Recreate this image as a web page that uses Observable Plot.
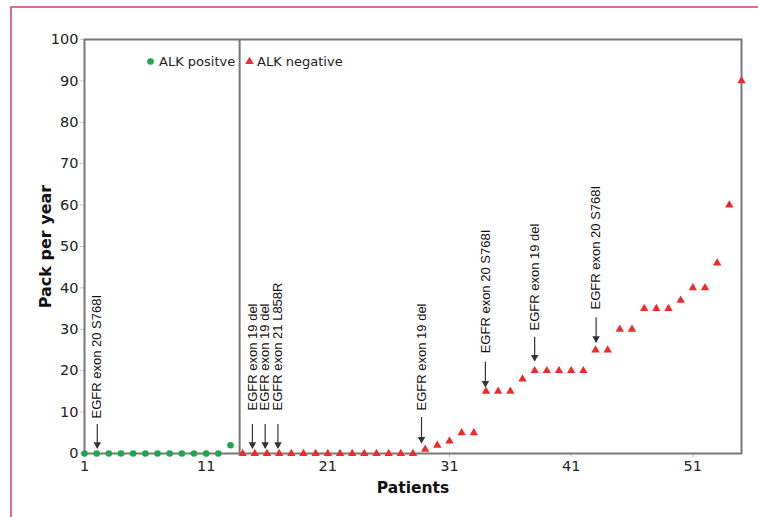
<!DOCTYPE html>
<html><head><meta charset="utf-8">
<script src="https://cdn.jsdelivr.net/npm/d3@7"></script>
<script src="https://cdn.jsdelivr.net/npm/@observablehq/plot@0.6"></script>
<style>
body{margin:0;background:#fff;}
#wrap{position:relative;width:758px;height:517px;overflow:hidden;}
#wrap svg{position:absolute;left:0;top:0;}
#border{position:absolute;left:10px;top:6px;width:800px;height:600px;border-left:2px solid #dd7088;border-top:2px solid #dd7088;}
</style></head><body><div id="wrap"><div id="border"></div></div>
<script>
// ---- data ----
const positivePatients = [1,2,3,4,5,6,7,8,9,10,11,12,13];
const positiveValues   = [0,0,0,0,0,0,0,0,0,0,0,0,2];
const negativePatients = [14,15,16,17,18,19,20,21,22,23,24,25,26,27,28,29,30,31,32,33,34,35,36,37,38,39,40,41,42,43,44,45,46,47,48,49,50,51,52,53,54,55];
const negativeValues   = [0,0,0,0,0,0,0,0,0,0,0,0,0,0,0,1,2,3,5,5,15,15,15,18,20,20,20,20,20,25,25,30,30,35,35,35,37,40,40,46,60,90];
const annotationLabels = ["EGFR exon 20 S768I","EGFR exon 19 del","EGFR exon 19 del","EGFR exon 21 L858R","EGFR exon 19 del","EGFR exon 20 S768I","EGFR exon 19 del","EGFR exon 20 S768I"];
const annotationX      = [2.05, 14.8, 15.85, 16.9, 28.7, 33.95, 38.0, 43.05];
const arrowTop         = [7.0, 7.0, 7.0, 7.0, 8.7, 22.05, 28.1, 32.8];
const arrowTip         = [1.2, 1.2, 1.2, 1.2, 2.5, 16.0, 22.3, 26.8];
const labelBottom      = [8.45, 10.4, 10.4, 10.4, 10.4, 24.2, 29.7, 34.8];
const groupDivider     = [13.75];
const xTicks = [1, 11, 21, 31, 41, 51];
const yTicks = [0, 10, 20, 30, 40, 50, 60, 70, 80, 90, 100];
const legendLabels = ["ALK positve", "ALK negative"];
const xTitle = "Patients";
const yTitle = "Pack per year";

// ---- tables built from arrays ----
const positive = positivePatients.map((p, i) => ({patient: p, value: positiveValues[i]}));
const negative = negativePatients.map((p, i) => ({patient: p, value: negativeValues[i]}));
const annotations = annotationLabels.map((t, i) => ({label: t, x: annotationX[i], top: arrowTop[i], tip: arrowTip[i], ly: labelBottom[i]}));

const GREEN = "#1ea652", RED = "#f02a2a", FRAME = "#777", INK = "#222";
const tickFont = "DejaVu Sans, Verdana, sans-serif";

const chart = Plot.plot({
  width: 758, height: 517,
  marginLeft: 84, marginRight: 17, marginTop: 39, marginBottom: 64,
  style: {fontFamily: tickFont, fontSize: "14.5px", color: INK, background: "transparent"},
  x: {domain: [1, 55]},
  y: {domain: [0, 100]},
  marks: [
    Plot.axisY({ticks: yTicks, tickSize: 4, tickPadding: 2, stroke: "#c8c8c8", label: null, fontSize: 14.5}),
    Plot.axisX({ticks: xTicks, tickSize: 4, tickPadding: 3, stroke: "#c8c8c8", label: null, fontSize: 14.5}),
    Plot.ruleX(groupDivider, {y1: 0, y2: 100, stroke: FRAME, strokeWidth: 2}),
    Plot.frame({stroke: FRAME, strokeWidth: 2}),
    // annotations
    Plot.ruleX(annotations, {x: "x", y1: "top", y2: "tip", stroke: "#333", strokeWidth: 1.2}),
    Plot.dot(annotations, {x: "x", y: "tip", symbol: "triangle", rotate: 180, r: 2.8, fill: "#333", dy: -4}),
    Plot.text(annotations, {x: "x", y: "ly", text: "label", rotate: -90, textAnchor: "start", fontSize: 13, fontFamily: "Liberation Sans, Arial, sans-serif", fill: "#111"}),
    // data points
    Plot.dot(positive, {x: "patient", y: "value", r: 3.3, fill: GREEN}),
    Plot.dot(negative, {x: "patient", y: "value", symbol: "triangle", r: 3.1, fill: RED}),
    // legend
    Plot.dot([legendLabels[0]], {frameAnchor: "top-left", dx: 66, dy: 22, r: 3.3, fill: GREEN}),
    Plot.text([legendLabels[0]], {frameAnchor: "top-left", dx: 74.5, dy: 22, text: d => d, textAnchor: "start", lineAnchor: "middle", fontSize: 13, fill: INK}),
    Plot.dot([legendLabels[1]], {frameAnchor: "top-left", dx: 165, dy: 22, symbol: "triangle", r: 3.1, fill: RED}),
    Plot.text([legendLabels[1]], {frameAnchor: "top-left", dx: 172.5, dy: 22, text: d => d, textAnchor: "start", lineAnchor: "middle", fontSize: 13, fill: INK}),
    // axis titles
    Plot.text([yTitle], {frameAnchor: "left", dx: -39, rotate: -90, text: d => d, textAnchor: "middle", lineAnchor: "middle", fontWeight: "bold", fontSize: 16, fill: "#111"}),
    Plot.text([xTitle], {frameAnchor: "bottom", dy: 35, text: d => d, textAnchor: "middle", lineAnchor: "middle", fontWeight: "bold", fontSize: 15.5, fill: "#111"})
  ]
});
document.getElementById("wrap").appendChild(chart);
</script>
</body></html>
